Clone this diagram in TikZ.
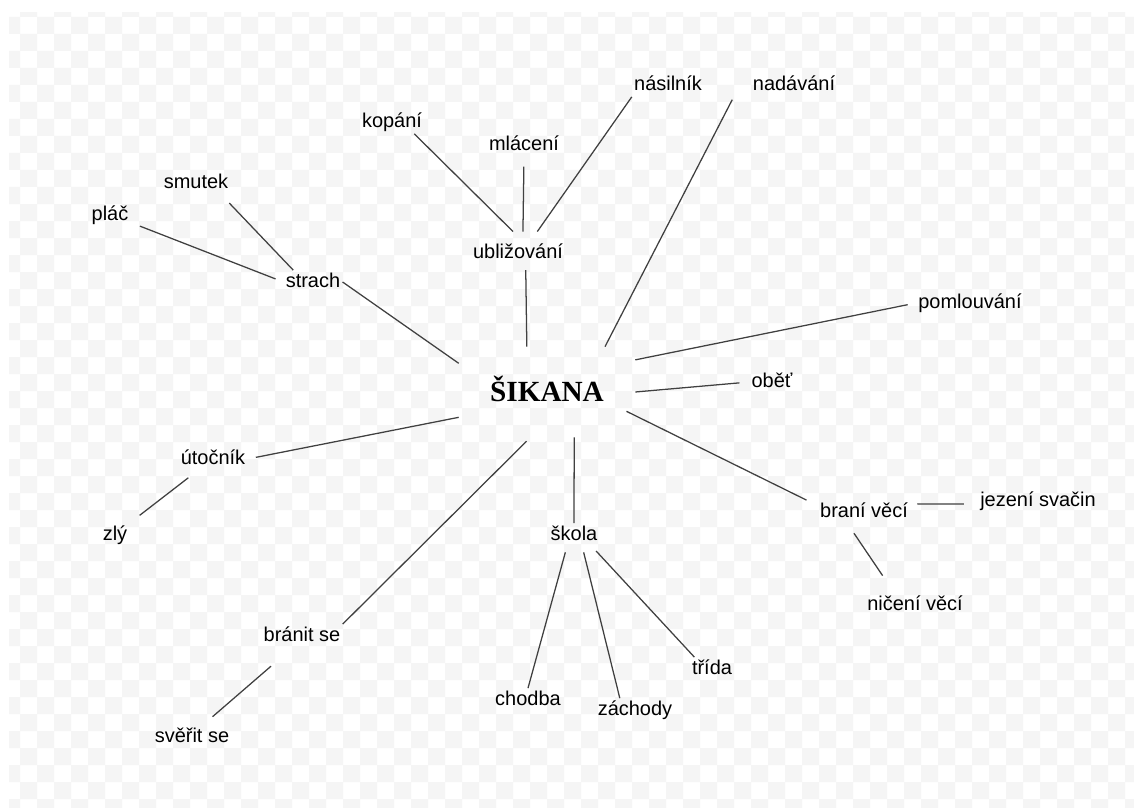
\documentclass[tikz,border=0pt]{standalone}
\usepackage{fontspec}
\setmainfont{Liberation Sans}
\newfontfamily\hubfont{Liberation Serif}
\definecolor{checker}{HTML}{F5F5F5}
\definecolor{wire}{HTML}{404040}
\begin{document}
\begin{tikzpicture}[x=0.025cm, y=-0.025cm,
    word/.style={font=\fontsize{14.2}{17}\selectfont, inner sep=1.5pt, text height=10.5pt, text depth=3pt},
    hub/.style={font=\hubfont\bfseries\fontsize{20.8}{24}\selectfont, inner sep=0pt, minimum width=4.4cm, minimum height=2.25cm, text height=13.8pt, text depth=0pt},
    link/.style={draw=wire, line width=0.9pt}]

	% Background checkerboard
	\useasboundingbox (0,0) rectangle (1134,808);
	\fill[white] (0,0) rectangle (1134,808);
	\begin{scope}
		\clip (9,13) rectangle (1134,808);
		\foreach \j in {0,...,47}{
			\pgfmathtruncatemacro\first{mod(\j+1,2)}
			\pgfmathtruncatemacro\second{\first+2}
			\fill[checker] \foreach \i in {\first,\second,...,66}{(3+17*\i,17*\j) rectangle +(17,17)};
		}
	\end{scope}

	% Centre
	\node[hub] (sikana) at (547,392) {ŠIKANA};

	% Top branches
	\node[word, outer ysep=7pt] (ublizovani) at (518,253) {ubližování};
	\node[word] (kopani) at (392,122) {kopání};
	\node[word] (mlaceni) at (524,145) {mlácení};
	\node[word] (nasilnik) at (668,85) {násilník};
	\node[word] (nadavani) at (794,85) {nadávání};

	% Right branches
	\node[word] (pomlouvani) at (970,303) {pomlouvání};
	\node[word] (obet) at (772,382) {oběť};
	\node[word] (brani) at (864,512) {braní věcí};
	\node[word] (jezeni) at (1038,501) {jezení svačin};
	\node[word] (niceni) at (915,605) {ničení věcí};

	% Left branches
	\node[word] (strach) at (313,282) {strach};
	\node[word] (smutek) at (196,183) {smutek};
	\node[word] (plac) at (110,215) {pláč};
	\node[word] (utocnik) at (213,459) {útočník};
	\node[word] (zly) at (115,535) {zlý};
	\node[word] (branit) at (302,636) {bránit se};
	\node[word] (sverit) at (192,737) {svěřit se};

	% Bottom branches
	\node[word] (skola) at (574,535) {škola};
	\node[word] (chodba) at (528,700) {chodba};
	\node[word] (zachody) at (635,710) {záchody};
	\node[word] (trida) at (712,669) {třída};

	% Connecting lines
	\draw[link] (kopani.-28) -- (ublizovani.103);
	\draw[link, shorten <=7pt] (mlaceni.south) -- (ublizovani.77);
	\draw[link] (nasilnik.south west) -- (ublizovani.48);
	\draw[link, shorten <=-3pt] (ublizovani.-70) -- (sikana.114);
	\draw[link] ([xshift=-13pt,yshift=-2pt]nadavani.south west) -- (sikana.38);

	\draw[link, shorten <=6pt] (pomlouvani.west) -- (sikana.20);
	\draw[link, shorten <=7pt] (obet.west) -- (sikana.east);
	\draw[link, shorten <=-7pt] (sikana.-15) -- ([xshift=-8pt]brani.north west);
	\draw[link, shorten <=5pt, shorten >=10pt] (brani.10) -- (jezeni.183);
	\draw[link, shorten <=8pt, shorten >=15pt] (brani.216) -- (niceni.150);

	\draw[link] (strach.east) -- (sikana.162);
	\draw[link, shorten <=8pt] (smutek.-25) -- (strach.149);
	\draw[link, shorten <=7pt, shorten >=6pt] (plac.-20) -- (strach.west);
	\draw[link, shorten <=6pt] (utocnik.east) -- (sikana.196);
	\draw[link, shorten <=8pt, shorten >=9pt] (utocnik.217) -- (zly.north east);
	\draw[link, shorten <=4pt] (sikana.250) -- (branit.north east);
	\draw[link] ([yshift=-13pt]branit.201) -- ([yshift=6pt]sverit.30);

	\draw[link] (sikana.-59) -- (skola.north);
	\draw[link, shorten <=4pt] (skola.239) -- (chodba.north);
	\draw[link, shorten <=4pt] (skola.-55) -- (zachody.142);
	\draw[link, shorten <=4pt] (skola.-33) -- (trida.146);

\end{tikzpicture}
\end{document}
